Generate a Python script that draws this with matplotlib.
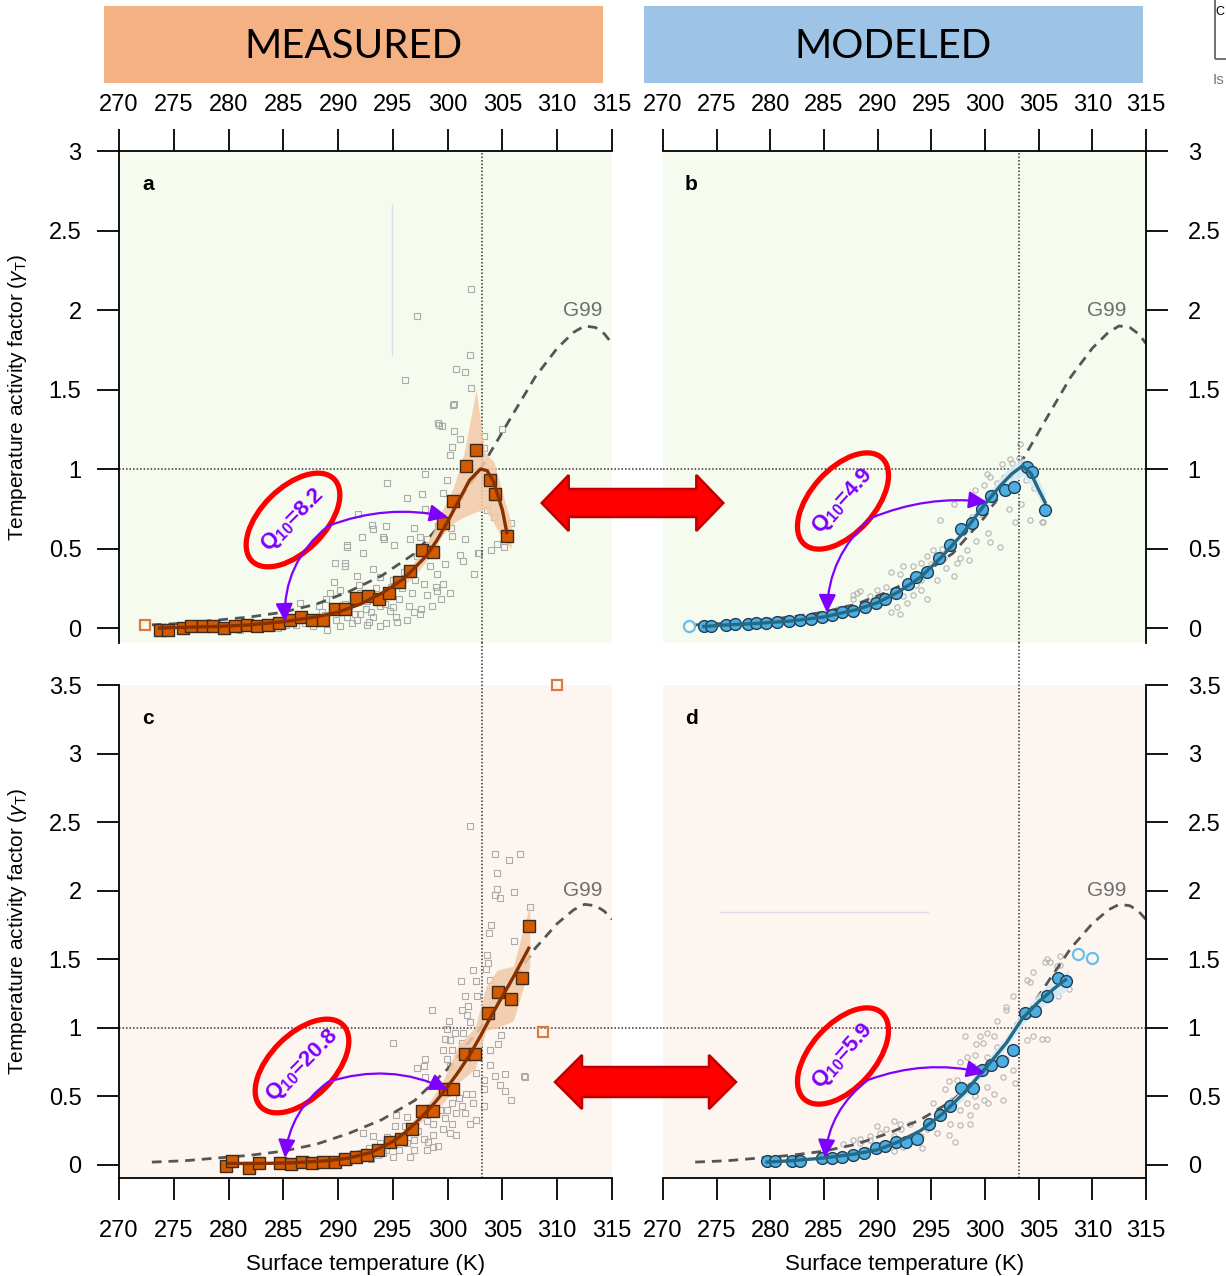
import matplotlib
matplotlib.use('Agg')
import matplotlib.pyplot as plt
from matplotlib import patches
from matplotlib.lines import Line2D
from matplotlib.transforms import IdentityTransform, blended_transform_factory

plt.rcParams['font.family'] = ['Liberation Sans Narrow', 'Liberation Sans', 'DejaVu Sans']
plt.rcParams['mathtext.fontset'] = 'custom'
plt.rcParams['mathtext.rm'] = 'Liberation Sans'
plt.rcParams['mathtext.it'] = 'Liberation Sans:italic'
plt.rcParams['mathtext.bf'] = 'Liberation Sans:bold'

# ---------------- data ----------------
X_TICKS = [270, 275, 280, 285, 290, 295, 300, 305, 310, 315]
Y_TICKS_TOP = [0, 0.5, 1, 1.5, 2, 2.5, 3]
Y_LABELS_TOP = ['0', '0.5', '1', '1.5', '2', '2.5', '3']
Y_TICKS_BOT = [0, 0.5, 1, 1.5, 2, 2.5, 3, 3.5]
Y_LABELS_BOT = ['0', '0.5', '1', '1.5', '2', '2.5', '3', '3.5']
T_OPT = 303.15

G99_T = [273, 276, 279, 282, 285, 288, 291, 294, 297, 300, 303, 306, 308, 310, 311.5, 312.5, 313.5, 314.3, 315]
G99_G = [0.02, 0.03, 0.05, 0.07, 0.10, 0.15, 0.23, 0.33, 0.47, 0.70, 1.0, 1.35, 1.58, 1.76, 1.86, 1.90, 1.89, 1.85, 1.79]

# panel a (measured, top)
A_T = [273.7, 274.5, 275.8, 276.6, 277.7, 278.6, 279.6, 280.6, 281.7, 282.6, 283.6, 284.6, 285.6, 286.6,
       287.6, 288.6, 289.7, 290.6, 291.6, 292.7, 293.7, 294.6, 295.6, 296.6, 297.7, 298.7, 299.6, 300.5,
       301.7, 302.6, 303.9, 304.3, 305.4]
A_G = [-0.01, -0.01, 0.00, 0.01, 0.01, 0.01, 0.00, 0.01, 0.02, 0.01, 0.02, 0.03, 0.05, 0.07, 0.05, 0.05,
       0.12, 0.12, 0.19, 0.20, 0.18, 0.22, 0.29, 0.36, 0.49, 0.48, 0.66, 0.80, 1.02, 1.12, 0.93, 0.84, 0.58]
A_OPEN_T = [272.4]
A_OPEN_G = [0.02]
A_FIT_T = [273.7, 276, 279, 282, 285, 288, 290, 292, 294, 296, 298, 299, 300, 301, 302, 303, 303.6, 304.2, 305, 305.4]
A_FIT_G = [0.0, 0.005, 0.01, 0.02, 0.04, 0.07, 0.10, 0.15, 0.22, 0.31, 0.45, 0.55, 0.67, 0.80, 0.93, 1.0, 0.99, 0.92, 0.74, 0.60]
A_BAND_T = [295.5, 297, 298.5, 299.5, 300.5, 301.5, 302.6, 303.4, 304.2, 305.0, 305.8]
A_BAND_LO = [0.24, 0.33, 0.46, 0.58, 0.66, 0.70, 0.73, 0.75, 0.66, 0.56, 0.50]
A_BAND_HI = [0.30, 0.42, 0.58, 0.74, 0.88, 1.10, 1.50, 1.10, 1.05, 0.85, 0.66]
A_SC_T = [302.1, 297.2, 302.0, 300.8, 301.6, 296.1, 302.1, 300.6, 299.1, 299.5, 300.6, 301.1, 300.4, 300.2,
          303.3, 303.3, 305.0, 297.9, 294.5, 299.9, 299.6, 296.3, 297.7, 297.9, 301.1, 303.6, 304.2, 305.8,
          291.8, 293.1, 293.2, 292.2, 290.8, 294.2, 295.1, 296.9, 296.6, 297.5, 298.1, 299.1, 300.3, 300.4,
          301.6, 301.1, 301.4, 302.4, 302.9, 304.5, 305.1, 304.0, 289.7, 290.6, 291.7, 293.2, 293.8, 295.0,
          298.4, 299.0, 299.6, 297.8, 300.2, 299.0, 298.1, 296.7, 295.6, 296.9, 297.5, 289.6, 290.2, 292.0,
          292.6, 293.8, 294.7, 295.3, 293.8, 292.6, 291.7, 290.8, 290.2, 289.0, 287.7, 286.8, 286.5, 288.3,
          289.3, 287.4, 292.0, 293.2, 294.4, 296.3, 285.9, 290.8, 290.6, 292.3, 294.4, 294.1, 300.5, 299.2,
          302.8, 284.5, 285.2, 286.0, 287.0, 288.0, 288.8, 289.5, 290.0, 291.0, 291.5, 292.5, 293.0, 294.0,
          295.0, 295.8, 296.0, 297.0, 298.6, 299.4, 283.5, 282.8, 281.0, 286.2, 287.2, 288.5, 289.8, 290.6,
          291.3, 292.8, 293.5, 294.3, 295.4, 296.5, 297.2, 298.9, 299.8, 288.9, 291.9, 294.8, 297.6]
A_SC_G = [2.13, 1.96, 1.72, 1.63, 1.61, 1.56, 1.51, 1.41, 1.29, 1.27, 1.24, 1.19, 1.14, 1.09,
          1.21, 1.13, 1.25, 0.97, 0.91, 0.93, 0.85, 0.82, 0.84, 0.75, 0.83, 0.74, 0.70, 0.66,
          0.72, 0.65, 0.62, 0.57, 0.52, 0.56, 0.52, 0.63, 0.56, 0.57, 0.56, 0.64, 0.63, 0.58,
          0.56, 0.46, 0.42, 0.34, 0.47, 0.53, 0.51, 0.49, 0.41, 0.39, 0.33, 0.37, 0.32, 0.30,
          0.39, 0.34, 0.28, 0.28, 0.22, 0.23, 0.21, 0.22, 0.18, 0.10, 0.09, 0.29, 0.24, 0.22,
          0.17, 0.14, 0.11, 0.07, 0.01, 0.02, 0.05, 0.07, 0.01, -0.01, 0.01, 0.09, 0.16, 0.14,
          0.22, 0.07, 0.09, 0.07, 0.03, 0.05, 0.04, 0.51, 0.41, 0.47, 0.64, 0.57, 1.40, 1.28,
          0.47, 0.00, 0.02, 0.06, 0.03, 0.04, 0.08, 0.12, 0.10, 0.13, 0.09, 0.12, 0.10, 0.20,
          0.13, 0.25, 0.35, 0.30, 0.14, 0.18, 0.01, 0.00, -0.01, 0.02, 0.06, 0.10, 0.05, 0.15,
          0.03, 0.04, 0.25, 0.15, 0.04, 0.14, 0.45, 0.26, 0.40, 0.18, 0.27, 0.26, 0.12]

# panel b (modeled, top)
B_T = [273.8, 274.5, 275.9, 276.7, 277.9, 278.7, 279.6, 280.6, 281.7, 282.8, 283.8, 284.8, 285.7, 286.7,
       287.7, 288.8, 289.8, 290.7, 291.7, 292.8, 293.6, 294.6, 295.7, 296.7, 297.8, 298.8, 299.7, 300.6,
       301.9, 302.7, 303.9, 304.4, 305.6]
B_G = [0.01, 0.01, 0.02, 0.025, 0.025, 0.03, 0.03, 0.04, 0.045, 0.05, 0.06, 0.07, 0.08, 0.10, 0.11, 0.13,
       0.16, 0.18, 0.22, 0.28, 0.32, 0.35, 0.44, 0.52, 0.62, 0.66, 0.75, 0.83, 0.87, 0.89, 1.01, 0.98, 0.74]
B_OPEN_T = [272.45]
B_OPEN_G = [0.01]
B_FIT_T = [273.8, 276, 279, 282, 285, 288, 290, 292, 294, 296, 298, 300, 301.5, 302.5, 303.5, 304.3, 305, 305.6]
B_FIT_G = [0.01, 0.02, 0.03, 0.045, 0.07, 0.115, 0.16, 0.23, 0.32, 0.45, 0.6, 0.78, 0.9, 0.97, 1.02, 0.97, 0.87, 0.79]
B_BAND_T = [298, 300, 302, 303.5, 304.5, 305.6]
B_BAND_LO = [0.57, 0.74, 0.88, 0.96, 0.88, 0.74]
B_BAND_HI = [0.63, 0.83, 0.99, 1.07, 1.00, 0.85]
B_SC_T = [303.2, 302.3, 301.6, 300.2, 299.9, 300.5, 301.1, 299.1, 302.2, 302.8, 301.4, 300.5, 300.3, 299.2,
          298.3, 297.7, 297.4, 298.5, 295.8, 297.1, 295.2, 294.6, 294.0, 293.3, 292.4, 292.1, 293.3, 294.0,
          294.9, 295.5, 296.4, 297.1, 290.8, 291.5, 292.4, 293.3, 294.0, 289.9, 289.3, 290.2, 291.8, 292.7,
          294.6, 288.1, 287.7, 288.7, 287.1, 291.2, 292.1, 303.4, 305.4, 303.3, 304.2, 305.3, 302.5, 287.7,
          288.4, 291.2, 296.0, 296.8, 298.0, 298.8, 299.5, 300.8, 301.8, 302.9, 303.8, 304.6, 285.5, 286.3,
          289.0, 290.5, 293.6, 295.0, 296.2]
B_SC_G = [1.07, 1.06, 1.03, 0.97, 0.90, 0.95, 0.91, 0.87, 0.75, 0.67, 0.51, 0.54, 0.60, 0.55,
          0.49, 0.44, 0.41, 0.43, 0.68, 0.78, 0.49, 0.45, 0.41, 0.39, 0.39, 0.34, 0.32, 0.30,
          0.34, 0.30, 0.38, 0.33, 0.26, 0.22, 0.20, 0.21, 0.24, 0.24, 0.20, 0.16, 0.13, 0.16,
          0.18, 0.22, 0.18, 0.13, 0.13, 0.10, 0.09, 0.78, 0.67, 1.16, 0.68, 0.67, 1.04, 0.21,
          0.23, 0.35, 0.50, 0.55, 0.62, 0.70, 0.72, 0.80, 0.95, 0.98, 0.93, 0.88, 0.10, 0.12,
          0.15, 0.20, 0.27, 0.40, 0.44]

# panel c (measured, bottom)
C_T = [279.8, 280.3, 281.9, 282.8, 284.7, 285.7, 286.7, 287.6, 288.6, 289.7, 290.6, 291.6, 292.6, 293.6,
       294.7, 295.7, 296.7, 297.7, 298.7, 299.8, 300.5, 301.6, 302.5, 303.65, 304.6, 305.75, 306.8, 307.45]
C_G = [-0.01, 0.03, -0.025, 0.01, 0.01, 0.005, 0.02, 0.01, 0.02, 0.02, 0.04, 0.06, 0.07, 0.11, 0.17, 0.19,
       0.26, 0.39, 0.39, 0.55, 0.55, 0.81, 0.81, 1.11, 1.26, 1.21, 1.36, 1.74]
C_OPEN_T = [308.7, 310.0]
C_OPEN_G = [0.97, 3.5]
C_FIT_T = [280, 283, 286, 289, 291, 293, 295, 296, 297, 298, 299, 300, 301, 302, 303, 304, 305, 306, 307.4]
C_FIT_G = [0.01, 0.01, 0.015, 0.03, 0.05, 0.09, 0.17, 0.23, 0.30, 0.38, 0.47, 0.57, 0.68, 0.80, 0.94, 1.09, 1.23, 1.37, 1.58]
C_BAND_T = [296.5, 298, 299.5, 301, 302.5, 303.5, 304.5, 306, 307.5]
C_BAND_LO = [0.24, 0.34, 0.44, 0.60, 0.70, 0.98, 1.00, 1.05, 1.45]
C_BAND_HI = [0.30, 0.42, 0.60, 0.88, 1.00, 1.30, 1.42, 1.45, 1.90]
C_SC_T = [302.0, 304.3, 306.6, 305.6, 304.5, 304.5, 304.3, 304.8, 306.1, 307.5, 304.0, 303.8, 306.1, 303.6,
          303.7, 303.5, 302.3, 302.6, 301.2, 303.9, 301.6, 302.7, 298.6, 301.3, 301.9, 301.8, 302.0, 300.1,
          299.9, 300.2, 300.7, 301.4, 299.8, 295.0, 301.3, 299.6, 300.4, 299.9, 297.9, 297.8, 297.2, 300.2,
          297.9, 302.6, 303.3, 303.9, 303.9, 304.3, 305.2, 304.8, 305.2, 305.8, 307.0, 304.6, 304.9, 303.3,
          303.3, 302.6, 301.7, 302.2, 302.3, 301.3, 301.0, 300.4, 299.9, 300.8, 301.6, 302.0, 300.4, 299.3,
          299.8, 298.7, 298.1, 299.6, 300.2, 300.8, 298.7, 297.8, 296.9, 296.3, 296.1, 295.3, 295.2, 296.3,
          295.6, 296.9, 298.7, 295.0, 296.6, 294.4, 298.1, 292.3, 293.2, 292.0, 294.1, 307.1, 289.5, 290.5,
          291.5, 292.8, 293.8, 294.5, 287.5, 288.5, 291.0, 293.0, 297.3, 298.2, 299.1, 296.0, 294.9, 293.6]
C_SC_G = [2.47, 2.27, 2.27, 2.22, 2.13, 2.01, 1.97, 1.95, 1.99, 1.88, 1.75, 1.69, 1.63, 1.53,
          1.47, 1.43, 1.42, 1.34, 1.34, 1.35, 1.23, 1.23, 1.13, 1.13, 1.16, 1.09, 1.04, 1.05,
          0.99, 0.91, 0.96, 0.96, 0.92, 0.89, 0.89, 0.84, 0.84, 0.77, 0.77, 0.72, 0.71, 0.72,
          0.64, 0.67, 0.62, 0.84, 0.73, 0.65, 0.66, 0.58, 0.54, 0.47, 0.65, 0.88, 0.95, 0.55,
          0.43, 0.33, 0.52, 0.52, 0.45, 0.43, 0.49, 0.45, 0.40, 0.38, 0.38, 0.30, 0.30, 0.40,
          0.34, 0.30, 0.32, 0.26, 0.23, 0.22, 0.22, 0.19, 0.18, 0.35, 0.28, 0.36, 0.28, 0.16,
          0.11, 0.11, 0.13, 0.06, 0.06, 0.11, 0.11, 0.23, 0.21, 0.09, 0.09, 0.64, 0.03, 0.05,
          0.08, 0.12, 0.16, 0.20, 0.00, 0.02, 0.02, 0.04, 0.25, 0.17, 0.14, 0.21, 0.15, 0.07]

# panel d (modeled, bottom)
D_T = [279.7, 280.4, 282.0, 282.8, 284.8, 285.7, 286.7, 287.7, 288.7, 289.8, 290.7, 291.7, 292.6, 293.7,
       294.8, 295.8, 296.7, 297.8, 298.9, 299.7, 300.6, 301.6, 302.6, 303.7, 304.7, 305.8, 306.8, 307.5]
D_G = [0.025, 0.025, 0.025, 0.03, 0.05, 0.05, 0.06, 0.07, 0.085, 0.12, 0.14, 0.17, 0.17, 0.19, 0.30, 0.36,
       0.43, 0.56, 0.56, 0.69, 0.73, 0.76, 0.84, 1.11, 1.12, 1.23, 1.36, 1.34]
D_OPEN_T = [308.7, 310.0]
D_OPEN_G = [1.54, 1.51]
D_FIT_T = [279.7, 282, 285, 288, 290, 292, 294, 296, 298, 300, 302, 303.5, 305, 306.5, 307.5]
D_FIT_G = [0.02, 0.03, 0.05, 0.08, 0.11, 0.17, 0.25, 0.37, 0.52, 0.70, 0.89, 1.07, 1.19, 1.29, 1.35]
D_BAND_T = [296, 298, 300, 302, 303.5, 305, 306.5, 307.8]
D_BAND_LO = [0.34, 0.48, 0.66, 0.85, 1.02, 1.13, 1.22, 1.28]
D_BAND_HI = [0.40, 0.56, 0.75, 0.94, 1.12, 1.25, 1.36, 1.42]
D_SC_T = [305.6, 306.1, 304.5, 303.9, 304.2, 306.7, 307.0, 306.4, 306.8, 307.8, 302.6, 302.0, 302.0, 303.0,
          301.1, 304.5, 305.3, 305.8, 303.9, 300.2, 300.8, 299.5, 299.8, 298.1, 299.2, 299.1, 300.2, 301.1,
          301.2, 302.0, 302.6, 301.7, 302.8, 297.7, 298.3, 298.9, 296.6, 297.4, 298.0, 300.2, 300.8, 301.7,
          299.1, 299.9, 300.3, 299.2, 298.3, 297.7, 298.6, 296.9, 296.3, 296.7, 297.7, 295.8, 295.2, 298.6,
          294.9, 294.6, 295.5, 294.0, 296.6, 297.2, 293.0, 292.1, 291.5, 292.2, 290.8, 290.2, 292.4, 294.1,
          291.5, 289.9, 289.3, 289.0, 288.4, 288.4, 289.9, 286.8, 289.3, 287.7, 291.5, 305.8, 307.0]
D_SC_G = [1.48, 1.48, 1.41, 1.35, 1.33, 1.45, 1.52, 1.28, 1.23, 1.28, 1.23, 1.15, 1.13, 1.03,
          1.05, 0.94, 0.92, 0.92, 0.91, 0.96, 0.94, 0.94, 0.89, 0.94, 0.88, 0.80, 0.79, 0.86,
          0.78, 0.77, 0.69, 0.64, 0.60, 0.75, 0.79, 0.72, 0.61, 0.62, 0.57, 0.57, 0.52, 0.47,
          0.50, 0.47, 0.45, 0.43, 0.45, 0.40, 0.36, 0.47, 0.55, 0.30, 0.29, 0.40, 0.45, 0.30,
          0.30, 0.26, 0.23, 0.21, 0.22, 0.17, 0.30, 0.30, 0.32, 0.26, 0.26, 0.23, 0.13, 0.12,
          0.10, 0.13, 0.18, 0.11, 0.16, 0.19, 0.28, 0.15, 0.21, 0.18, 0.21, 1.50, 1.46]

# ---------------- figure ----------------
W, H = 1226, 1276
fig = plt.figure(figsize=(W / 100, H / 100), dpi=100)
fig.patch.set_facecolor('white')


def pos(x0, x1, y0, y1):
    return [x0 / W, 1 - y1 / H, (x1 - x0) / W, (y1 - y0) / H]


ax_a = fig.add_axes(pos(119, 612, 151, 643))
ax_b = fig.add_axes(pos(663, 1146, 151, 643))
ax_c = fig.add_axes(pos(119, 612, 685, 1178))
ax_d = fig.add_axes(pos(663, 1146, 685, 1178))

GREEN_BG = '#F6FBEF'
PEACH_BG = '#FDF6F0'
SQ_FILL = '#D45A00'
SQ_EDGE = '#3B2A20'
SQ_LINE = '#873000'
SQ_BAND = '#F2C9A6'
CI_FILL = '#4DAEE2'
CI_EDGE = '#1E3C55'
CI_LINE = '#256985'
CI_BAND = '#D3EAF6'
TICK_FS = 17

panels = [
    (ax_a, 'a', 'top', 'left', (-0.094, 3.0), Y_TICKS_TOP, Y_LABELS_TOP, GREEN_BG, 'sq'),
    (ax_b, 'b', 'top', 'right', (-0.094, 3.0), Y_TICKS_TOP, Y_LABELS_TOP, GREEN_BG, 'ci'),
    (ax_c, 'c', 'bottom', 'left', (-0.096, 3.5), Y_TICKS_BOT, Y_LABELS_BOT, PEACH_BG, 'sq'),
    (ax_d, 'd', 'bottom', 'right', (-0.096, 3.5), Y_TICKS_BOT, Y_LABELS_BOT, PEACH_BG, 'ci'),
]

for ax, letter, xside, yside, ylim, yt, yl, bg, kind in panels:
    ax.set_facecolor(bg)
    ax.set_xlim(270, 315)
    ax.set_ylim(*ylim)
    for s in ['top', 'bottom', 'left', 'right']:
        ax.spines[s].set_visible(s in (xside, yside))
        ax.spines[s].set_linewidth(1.3)
    ax.set_xticks(X_TICKS)
    ax.set_xticklabels([str(t) for t in X_TICKS])
    ax.set_yticks(yt)
    ax.set_yticklabels(yl)
    ax.xaxis.set_ticks_position(xside)
    ax.yaxis.set_ticks_position(yside)
    ax.tick_params(axis='x', direction='out', length=16, width=1.3, labelsize=TICK_FS,
                   pad=9 if xside == 'top' else 14)
    ax.tick_params(axis='y', direction='out', length=16, width=1.3, labelsize=TICK_FS,
                   pad=11 if yside == 'left' else 14)
    if yside == 'right':
        for lab in ax.get_yticklabels():
            lab.set_horizontalalignment('left')
    # reference lines
    ax.axhline(1.0, color='#333333', lw=1.1, ls=(0, (1, 1.3)), zorder=1.5)
    ax.axvline(T_OPT, color='#333333', lw=1.1, ls=(0, (1, 1.3)), zorder=1.5)
    # G99
    ax.plot(G99_T, G99_G, color='#555555', lw=2.0, ls=(0, (3.5, 2.5)), zorder=2)
    ax.text(312.3 if kind == 'sq' else 311.3, 2.0, 'G99', color='#6E6E6E', fontsize=15,
            ha='center', va='center', family=['Liberation Sans', 'DejaVu Sans'])
    ax.text(272.65, 0.93 * ylim[1], letter, fontsize=15, fontweight='bold', ha='center', va='center',
            family=['Liberation Sans', 'DejaVu Sans'])

# measured panels (squares)
for ax, T, G, oT, oG, fT, fG, bT, bL, bH, sT, sG in [
        (ax_a, A_T, A_G, A_OPEN_T, A_OPEN_G, A_FIT_T, A_FIT_G, A_BAND_T, A_BAND_LO, A_BAND_HI, A_SC_T, A_SC_G),
        (ax_c, C_T, C_G, C_OPEN_T, C_OPEN_G, C_FIT_T, C_FIT_G, C_BAND_T, C_BAND_LO, C_BAND_HI, C_SC_T, C_SC_G)]:
    ax.plot(sT, sG, ls='none', marker='s', ms=4.0, mfc='none', mec='#ABABAB', mew=0.8, zorder=1)
    ax.fill_between(bT, bL, bH, color=SQ_BAND, alpha=0.85, lw=0, zorder=2.5)
    ax.plot(T, G, ls='none', marker='s', ms=8.0, mfc=SQ_FILL, mec=SQ_EDGE, mew=1.0, zorder=3)
    ax.plot(fT, fG, color=SQ_LINE, lw=2.4, zorder=4)
    ax.plot(oT, oG, ls='none', marker='s', ms=7.5, mfc='none', mec='#E07A3A', mew=1.6, zorder=4,
            clip_on=False)

# modeled panels (circles)
for ax, T, G, oT, oG, fT, fG, bT, bL, bH, sT, sG in [
        (ax_b, B_T, B_G, B_OPEN_T, B_OPEN_G, B_FIT_T, B_FIT_G, B_BAND_T, B_BAND_LO, B_BAND_HI, B_SC_T, B_SC_G),
        (ax_d, D_T, D_G, D_OPEN_T, D_OPEN_G, D_FIT_T, D_FIT_G, D_BAND_T, D_BAND_LO, D_BAND_HI, D_SC_T, D_SC_G)]:
    ax.plot(sT, sG, ls='none', marker='o', ms=3.8, mfc='none', mec='#B4B4B4', mew=0.8, zorder=1)
    ax.fill_between(bT, bL, bH, color=CI_BAND, alpha=0.9, lw=0, zorder=2.5)
    ax.plot(T, G, ls='none', marker='o', ms=8.5, mfc=CI_FILL, mec=CI_EDGE, mew=1.0, zorder=3)
    ax.plot(fT, fG, color=CI_LINE, lw=2.4, zorder=4)
    ax.plot(oT, oG, ls='none', marker='o', ms=8.0, mfc='none', mec='#6BBDEB', mew=1.6, zorder=4,
            clip_on=False)

# axis labels
YLAB = r'Temperature activity factor ($\gamma_{\rm T}$)'
for ax in (ax_a, ax_c):
    ax.set_ylabel(YLAB, fontsize=15, labelpad=14)
for ax in (ax_c, ax_d):
    ax.set_xlabel('Surface temperature (K)', fontsize=16, labelpad=9)

# dotted reference lines crossing the white gaps (behind the axes)
dot = dict(color='#333333', lw=1.1, ls=(0, (1, 1.3)), zorder=-1)
for axl in (ax_a, ax_c):
    fig.add_artist(Line2D([119 / W, 1146 / W], [1.0, 1.0],
                          transform=blended_transform_factory(fig.transFigure, axl.transData), **dot))
for axt in (ax_a, ax_b):
    fig.add_artist(Line2D([T_OPT, T_OPT], [1 - 1178 / H, 1 - 151 / H],
                          transform=blended_transform_factory(axt.transData, fig.transFigure), **dot))

# ---------------- banners ----------------
for x0, x1, col, txt in [(104, 603, '#F4B183', 'MEASURED'), (644, 1143, '#9DC3E6', 'MODELED')]:
    fig.add_artist(patches.Rectangle((x0 / W, 1 - 83 / H), (x1 - x0) / W, 77 / H,
                                     transform=fig.transFigure, fc=col, ec='none', zorder=1))
    fig.text((x0 + x1) / 2 / W, 1 - 46 / H, txt, fontsize=29, ha='center', va='center',
             family=['Lato', 'Open Sans', 'DejaVu Sans'], color='black', zorder=2)

# partially cropped box at the top right edge
fig.add_artist(patches.Rectangle((1215, H - 59), 40, 80, transform=IdentityTransform(),
                                 fill=False, ec='#666666', lw=1.3, zorder=2))
fig.text(1224 / W, 1 - 12 / H, 'C', fontsize=9, ha='right', va='center', color='black')
fig.text(1224 / W, 1 - 80 / H, 'Is', fontsize=11, ha='right', va='center', color='#777777')

# faint artefact lines
fig.add_artist(Line2D([392, 392], [H - 205, H - 355], transform=IdentityTransform(),
                      color='#DCDCE6', lw=1.0, zorder=1))
fig.add_artist(Line2D([720, 928], [H - 912, H - 912], transform=IdentityTransform(),
                      color='#DCDCE6', lw=1.0, zorder=1))


# ---------------- red double arrows ----------------
def double_arrow(xl, xr, yc, hl=27, hw=28, sw=14):
    yc = H - yc
    v = [(xl, yc), (xl + hl, yc + hw), (xl + hl, yc + sw), (xr - hl, yc + sw), (xr - hl, yc + hw),
         (xr, yc), (xr - hl, yc - hw), (xr - hl, yc - sw), (xl + hl, yc - sw), (xl + hl, yc - hw)]
    fig.add_artist(patches.Polygon(v, closed=True, transform=IdentityTransform(),
                                   fc='#FF0000', ec='#C00000', lw=1.8, zorder=10))


double_arrow(541.7, 723.3, 503)
double_arrow(555, 736, 1082, hw=27, sw=15)


# ---------------- Q10 annotations ----------------
def q10(cx, cy, label, ang, origin, tip1, rad1, tip2, rad2):
    fig.add_artist(patches.Ellipse((cx, H - cy), 116, 64, angle=ang, transform=IdentityTransform(),
                                   fill=False, ec='#FF0000', lw=3.8, zorder=11))
    fig.text(cx / W, 1 - cy / H, label, rotation=ang, rotation_mode='anchor', ha='center', va='center',
             fontsize=16, fontweight='bold', color='#7F00FF', zorder=12,
             family=['Liberation Sans', 'DejaVu Sans'])
    for tip, rad in ((tip1, rad1), (tip2, rad2)):
        fig.add_artist(patches.FancyArrowPatch(
            (origin[0], H - origin[1]), (tip[0], H - tip[1]), connectionstyle=f'arc3,rad={rad}',
            arrowstyle='-|>,head_length=0.85,head_width=0.4', mutation_scale=13,
            color='#7F00FF', lw=1.6, shrinkA=0, shrinkB=0, transform=IdentityTransform(), zorder=11))


q10(293, 520, r'Q$_{\mathbf{10}}$=8.2', 45, (328, 526), (448, 517), -0.15, (285, 622), 0.25)
q10(843, 501, r'Q$_{\mathbf{10}}$=4.9', 48, (871, 518), (987, 502), -0.13, (827, 613), 0.22)
q10(302, 1066, r'Q$_{\mathbf{10}}$=20.8', 45, (328, 1082), (448, 1090), -0.2, (285, 1158), 0.22)
q10(843, 1056, r'Q$_{\mathbf{10}}$=5.9', 48, (868, 1080), (985, 1073), -0.15, (825, 1158), 0.22)

fig.savefig('out.png', dpi=100)
